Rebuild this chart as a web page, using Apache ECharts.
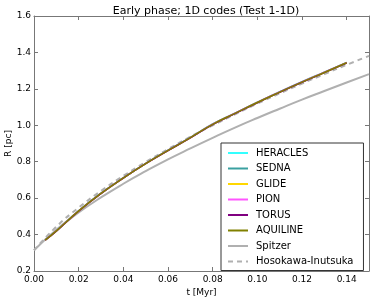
<!DOCTYPE html>
<html><head><meta charset="utf-8">
<script src="https://cdn.jsdelivr.net/npm/echarts@6/dist/echarts.min.js"></script>
<style>html,body{margin:0;padding:0;background:#fff}#c{width:374px;height:303px}</style>
</head><body><div id="c"></div>
<script>
const tSim = [0.005,0.01,0.02,0.03,0.04,0.05,0.06,0.07,0.08,0.09,0.10,0.11,0.12,0.13,0.14];
const heracles = [0.370,0.420,0.530,0.626,0.711,0.790,0.862,0.932,1.006,1.066,1.126,1.183,1.238,1.291,1.344];
const sedna    = [0.371,0.421,0.531,0.627,0.712,0.791,0.863,0.933,1.007,1.067,1.127,1.184,1.239,1.292,1.345];
const glide    = [0.369,0.419,0.529,0.625,0.710,0.789,0.861,0.931,1.005,1.065,1.125,1.182,1.237,1.290,1.343];
const pion     = [0.370,0.420,0.530,0.626,0.711,0.790,0.862,0.932,1.006,1.066,1.126,1.183,1.238,1.291,1.344];
const torus    = [0.369,0.419,0.529,0.625,0.710,0.789,0.861,0.931,1.004,1.064,1.124,1.181,1.236,1.289,1.342];
const aquiline = [0.370,0.420,0.530,0.626,0.711,0.790,0.862,0.932,1.005,1.065,1.125,1.182,1.237,1.290,1.343];
const tAna = [0,0.01,0.02,0.03,0.04,0.05,0.06,0.07,0.08,0.09,0.10,0.11,0.12,0.13,0.14,0.15];
const spitzer = [0.314,0.427,0.521,0.604,0.679,0.748,0.813,0.873,0.931,0.987,1.040,1.091,1.141,1.188,1.235,1.281];
const hosokawa = [0.314,0.443,0.548,0.640,0.722,0.798,0.869,0.937,1.000,1.060,1.119,1.175,1.229,1.281,1.332,1.381];
const xTicks = [0,0.02,0.04,0.06,0.08,0.10,0.12,0.14];
const yTicks = [0.2,0.4,0.6,0.8,1.0,1.2,1.4,1.6];

const zip = (xs, ys) => xs.map((x,i)=>[x, ys[i]]);
const font = 'DejaVu Sans';
const frame = '#777';
function simSeries(name, data, color){
  return {name, type:'line', data: zip(tSim, data), symbol:'none', smooth:true,
    lineStyle:{color, width:1.5}, itemStyle:{color}, z:3};
}
const chart = echarts.init(document.getElementById('c'), null, {renderer:'canvas'});
const xBase = {type:'value', min:0, max:0.15, interval:0.02,
  axisLine:{show:true, onZero:false, lineStyle:{color:frame, width:1}},
  axisTick:{show:true, inside:true, length:4, lineStyle:{color:frame}},
  splitLine:{show:false}};
const yBase = {type:'value', min:0.2, max:1.6, interval:0.2,
  axisLine:{show:true, onZero:false, lineStyle:{color:frame, width:1}},
  axisTick:{show:true, inside:true, length:4, lineStyle:{color:frame}},
  splitLine:{show:false}};
chart.setOption({
  animation:false,
  backgroundColor:'#fff',
  textStyle:{fontFamily:font},
  title:{text:'Early phase; 1D codes (Test 1-1D)', left:201, top:1, textAlign:'center',
    textStyle:{fontFamily:font, fontSize:11, fontWeight:'normal', color:'#000'}},
  grid:{left:34, right:5, top:16, bottom:32, containLabel:false, outerBoundsMode:'none'},
  xAxis:[
    Object.assign({}, xBase, {position:'bottom', name:'t [Myr]', nameLocation:'middle', nameGap:17,
      nameMoveOverlap:false,
      nameTextStyle:{fontFamily:font, fontSize:9, color:'#000'},
      axisLabel:{fontFamily:font, fontSize:9, color:'#000', margin:4, showMaxLabel:false,
        formatter:v=>v.toFixed(2)}}),
    Object.assign({}, xBase, {position:'top', axisLabel:{show:false}})
  ],
  yAxis:[
    Object.assign({}, yBase, {position:'left', name:'R [pc]', nameLocation:'middle', nameGap:21,
      nameMoveOverlap:false,
      nameTextStyle:{fontFamily:font, fontSize:9, color:'#000'},
      axisLabel:{fontFamily:font, fontSize:9, color:'#000', margin:3,
        formatter:v=>v.toFixed(1)}}),
    Object.assign({}, yBase, {position:'right', axisLabel:{show:false}})
  ],
  legend:{orient:'vertical', left:221, top:143, width:142, itemWidth:20, itemHeight:10, itemGap:5.5,
    padding:[5,10,4,6], borderColor:'#333', borderWidth:1, backgroundColor:'#fff',
    itemStyle:{opacity:0},
    textStyle:{fontFamily:font, fontSize:10, color:'#000', padding:[0,0,0,3]},
    data:['HERACLES','SEDNA','GLIDE','PION','TORUS','AQUILINE','Spitzer','Hosokawa-Inutsuka']},
  series:[
    {name:'Spitzer', type:'line', data: zip(tAna, spitzer), symbol:'none', smooth:true,
      lineStyle:{color:'#b0b0b0', width:2}, itemStyle:{color:'#b0b0b0'}, z:2},
    {name:'Hosokawa-Inutsuka', type:'line', data: zip(tAna, hosokawa), symbol:'none', smooth:true,
      lineStyle:{color:'#b0b0b0', width:2, type:[5,4]}, itemStyle:{color:'#b0b0b0'}, z:2},
    simSeries('HERACLES', heracles, '#33ffff'),
    simSeries('SEDNA', sedna, '#3aa0a0'),
    simSeries('GLIDE', glide, '#ffd700'),
    simSeries('PION', pion, '#ff55ff'),
    simSeries('TORUS', torus, '#800080'),
    simSeries('AQUILINE', aquiline, '#808000')
  ]
});
</script></body></html>
